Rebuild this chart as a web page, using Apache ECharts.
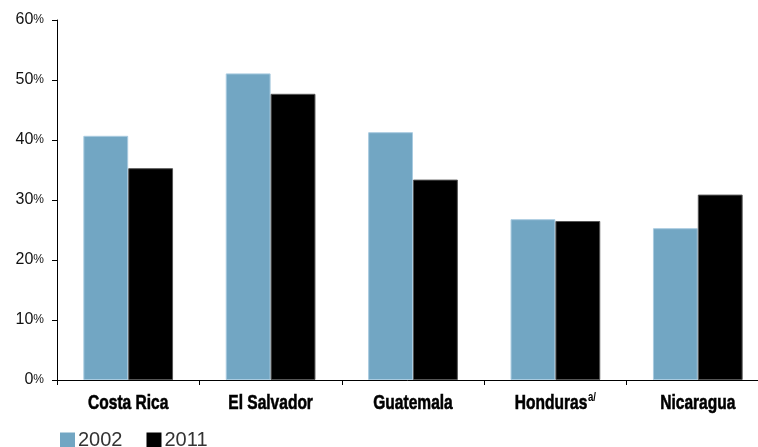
<!DOCTYPE html>
<html>
<head>
<meta charset="utf-8">
<script src="https://cdn.jsdelivr.net/npm/echarts@6/dist/echarts.min.js"></script>
<style>
  html, body { margin: 0; padding: 0; background: #fff; }
  #chart { width: 758px; height: 447px; }
</style>
</head>
<body>
<div id="chart"></div>
<script>
// Countries on the category axis
const countries = ['Costa Rica', 'El Salvador', 'Guatemala', 'Honduras', 'Nicaragua'];
// Footnote marks shown after a country name
const footnotes = { 'Honduras': 'a/' };
// Share (%) per country, by survey year
const values2002 = [40.7, 51.1, 41.3, 26.8, 25.3];
const values2011 = [35.3, 47.7, 33.4, 26.5, 30.9];
// Value axis ticks
const yTicks = [0, 10, 20, 30, 40, 50, 60];
const seriesNames = ['2002', '2011'];

const sans = '"Liberation Sans", Arial, sans-serif';

const chart = echarts.init(document.getElementById('chart'), null, { renderer: 'canvas' });

chart.setOption({
  animation: false,
  // the plot runs slightly past the right edge of the canvas
  grid: { left: 57, width: 712, top: 20, height: 360, containLabel: false, outerBoundsMode: 'none' },
  legend: {
    data: seriesNames,
    left: 60,
    top: 430,
    padding: 0,
    itemWidth: 15,
    itemHeight: 15,
    itemGap: 24,
    icon: 'rect',
    itemStyle: { borderWidth: 0 },
    textStyle: { fontFamily: sans, fontSize: 20, color: '#333', padding: [0, 0, 0, -2] }
  },
  xAxis: {
    type: 'category',
    data: countries,
    axisLine: { lineStyle: { color: '#000', width: 1 } },
    axisTick: { show: true, length: 5, inside: false, alignWithLabel: false, lineStyle: { color: '#000' } },
    // names are drawn below as condensed text
    axisLabel: { show: false },
    splitLine: { show: false }
  },
  yAxis: {
    type: 'value',
    min: yTicks[0],
    max: yTicks[yTicks.length - 1],
    interval: 10,
    axisLine: { show: true, lineStyle: { color: '#000', width: 1 } },
    axisTick: { show: true, length: 5, inside: false, lineStyle: { color: '#000' } },
    splitLine: { show: false },
    axisLabel: {
      margin: 13,
      formatter: function (v) { return '{n|' + v + '}{p|%}'; },
      rich: {
        n: { fontFamily: sans, fontSize: 16, color: '#111' },
        p: { fontFamily: sans, fontSize: 12, color: '#111' }
      }
    }
  },
  series: [
    {
      name: seriesNames[0],
      type: 'bar',
      data: values2002,
      barGap: '0%',
      barCategoryGap: '37%',
      itemStyle: { color: '#72A6C3', borderColor: '#A9CBE0', borderWidth: 1 }
    },
    {
      name: seriesNames[1],
      type: 'bar',
      data: values2011,
      itemStyle: { color: '#000', borderColor: '#555', borderWidth: 1 }
    }
  ]
});

// Condensed bold country names, centred under each category
const labelY = chart.convertToPixel({ yAxisIndex: 0 }, 0) + 23;
chart.setOption({
  graphic: countries.map(function (c) {
    const cx = chart.convertToPixel({ xAxisIndex: 0 }, c);
    const note = footnotes[c];
    return {
      type: 'text',
      x: cx,
      y: labelY,
      scaleX: 0.74,
      silent: true,
      style: {
        text: note ? '{b|' + c + '}{s|' + note + '}' : '{b|' + c + '}',
        align: 'center',
        verticalAlign: 'middle',
        rich: {
          b: { fontFamily: sans, fontWeight: 'bold', fontSize: 21, lineHeight: 24, fill: '#000', stroke: '#000', lineWidth: 0.6 },
          s: { fontFamily: sans, fontWeight: 'bold', fontSize: 13, lineHeight: 24, fill: '#000', verticalAlign: 'top', padding: [0, 0, 8, 1] }
        }
      }
    };
  })
});
</script>
</body>
</html>
